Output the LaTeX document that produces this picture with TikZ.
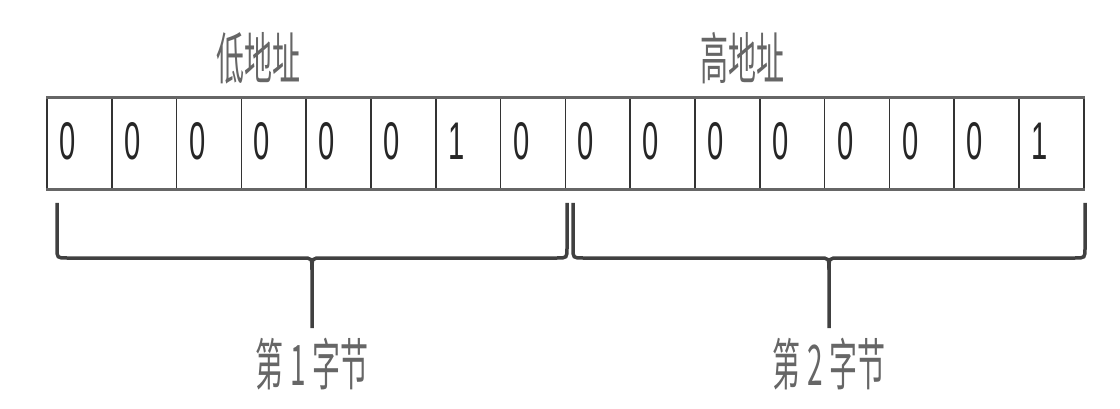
\documentclass[tikz,border=0pt]{standalone}
\usepackage{fontspec}
\newfontfamily\cjk[FakeStretch=0.5]{Noto Sans CJK SC}
\newfontfamily\bitfont[FakeStretch=0.55]{Liberation Sans}
\usetikzlibrary{positioning}
\tikzset{
	cell/.style={draw=black!80,line width=1.6pt,minimum width=64.8pt,minimum height=90pt,inner sep=0pt},
	rowedge/.style={draw=black!60,line width=3.5pt},
	bit/.style={font=\bitfont\fontsize{53}{60}\selectfont,text=black!85,inner sep=0pt},
	addr/.style={font=\cjk\fontsize{56}{60}\selectfont,text=black!60,inner sep=0pt},
	braceline/.style={draw=black!75,line width=3.5pt},
	bytebrace/.pic={
		\draw[braceline] (-#1,-55) -- (-#1,-10) .. controls (-#1,0) .. (-#1+10,0) -- (-10,0) .. controls (0,0) .. (0,12) -- (0,70);
		\draw[braceline] (#1,-55) -- (#1,-10) .. controls (#1,0) .. (#1-10,0) -- (10,0) .. controls (0,0) .. (0,12);
		\coordinate (-tip) at (0,70);
	}
}
\begin{document}
\begin{tikzpicture}[x=1pt,y=-1pt]
\useasboundingbox (0,0) rectangle (1120,409);

%cells
\foreach \b [count=\i] in {0,0,0,0,0,0,1,0,0,0,0,0,0,0,0,1}{
	\node[cell] (c\i) at ({47+64.8*(\i-0.5)},143.5) {};
	\node[bit] (b\i) at ([xshift=21.5pt,yshift=2.5pt]c\i.west) {\b};
}
\draw[rowedge] (c1.north west) -- (c16.north east);
\draw[rowedge] (c1.south west) -- (c16.south east);

%addresses
\node[addr] (low) at (258.5,58) {低地址};
\node[addr] (high) at (742,58) {高地址};

%braces
\pic (lowbrace) at (312,258) {bytebrace=255};
\pic (highbrace) at (829,258) {bytebrace=256};
\node[addr,below=10pt of lowbrace-tip] (byte1) {第\hspace{7pt}1\hspace{7pt}字节};
\node[addr,below=10pt of highbrace-tip] (byte2) {第\hspace{7pt}2\hspace{7pt}字节};
\end{tikzpicture}
\end{document}
